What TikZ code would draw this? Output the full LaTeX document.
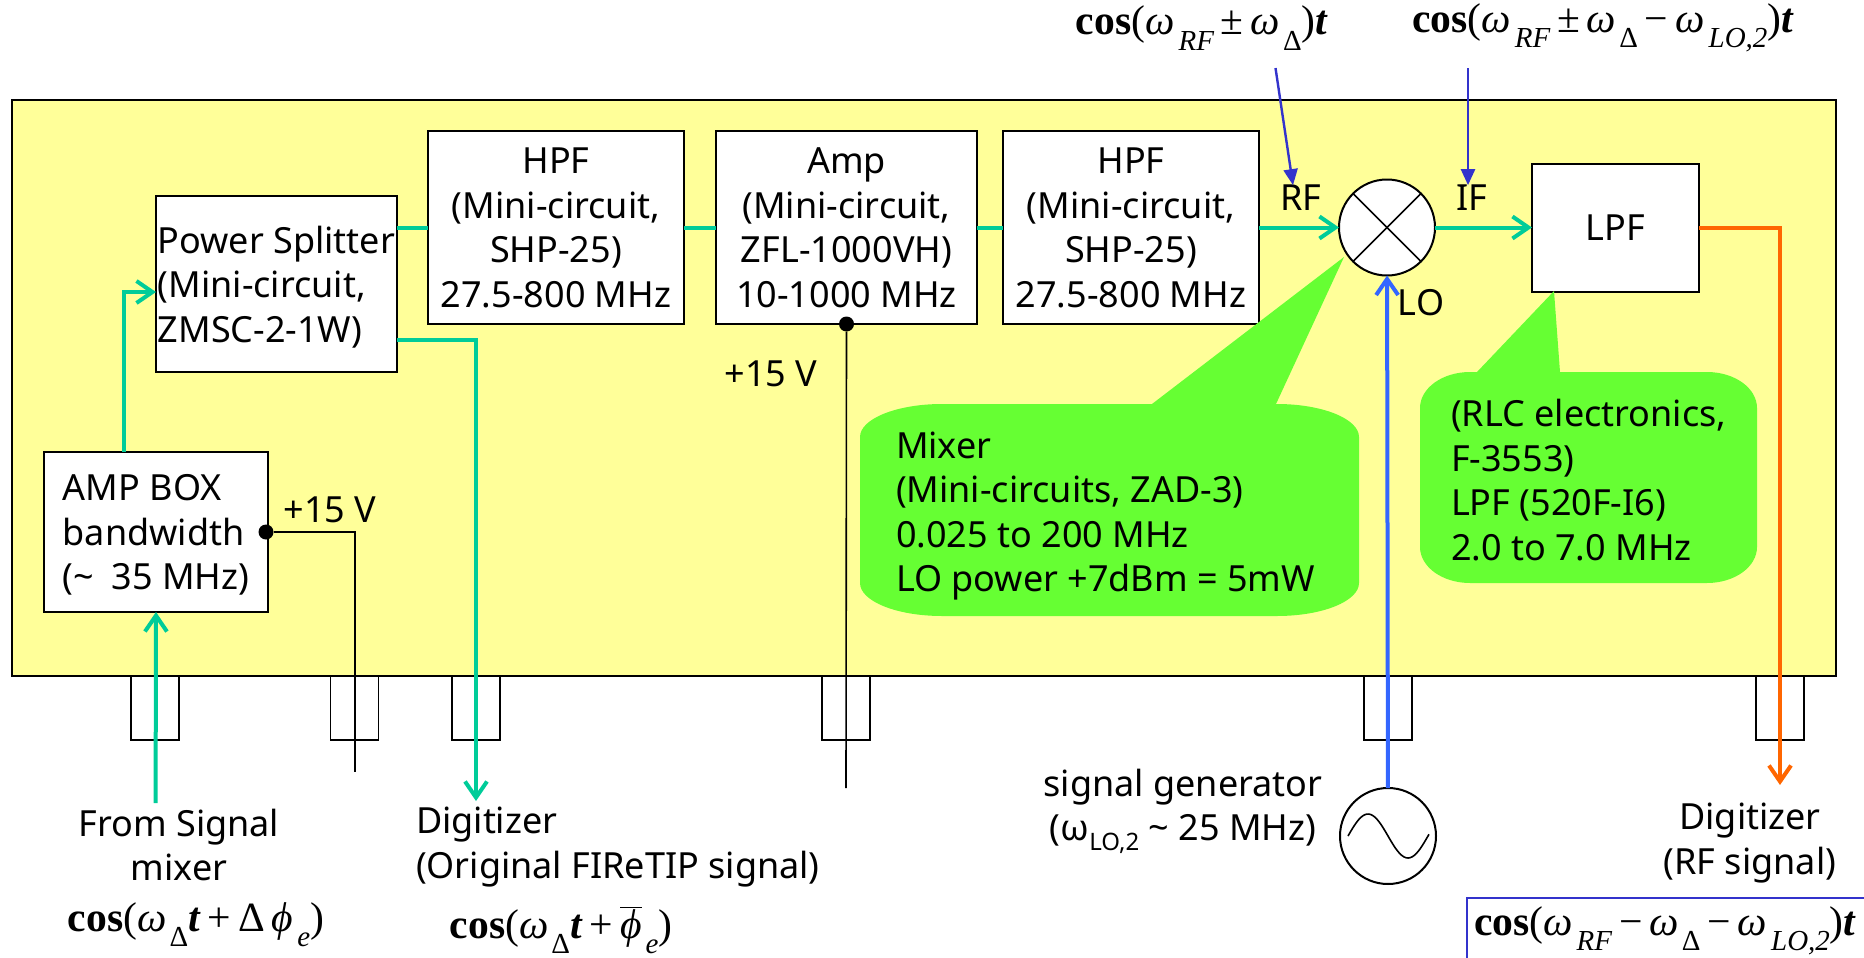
\documentclass[tikz,border=0pt]{standalone}
\usepackage{fontspec}
\setmainfont{Noto Sans}
\newfontfamily\eqfont{Liberation Serif}
\usepackage{tikz}
\usetikzlibrary{positioning,arrows.meta}
\definecolor{chassisyellow}{HTML}{FFFF99}
\definecolor{notegreen}{HTML}{66FF33}
\definecolor{wiregreen}{HTML}{00CC99}
\definecolor{wireorange}{HTML}{FF6600}
\definecolor{wireblue}{HTML}{3366FF}
\definecolor{markblue}{HTML}{3333CC}
\newcommand{\lowsub}[1]{\kern2pt\raisebox{-.8ex}{\fontsize{14.5}{15}\selectfont\itshape #1}}
\newcommand{\upsub}[1]{\kern1.5pt\raisebox{-.8ex}{\fontsize{14.5}{15}\selectfont #1}}
\newcommand{\om}{\textit{ω}}
\newcommand{\bcos}{\textbf{cos}}
\newcommand{\bt}{\textbf{\textit{t}}}

\begin{document}
\begin{tikzpicture} [x=0.5pt,y=-0.5pt,>={Straight Barb[length=8pt,width=11pt]},
    every node/.style={font=\fontsize{18}{22.3}\selectfont,inner sep=0pt,outer sep=0pt},
    box/.style={rectangle, draw, fill=white, line width=1pt, align=center, text depth=0pt},
    port/.style={rectangle, draw, line width=0.8pt, minimum width=24pt, minimum height=32pt},
    note/.style={notegreen},
    lab/.style={align=center},
    eqn/.style={font=\eqfont\fontsize{20.8}{24}\selectfont},
    dot/.style={circle, fill=black, minimum size=7.5pt},
    con/.style={->,line width=2pt,wiregreen},
    hot/.style={line width=0.8pt},
    markarrow/.style={-{Triangle[length=8pt,width=7pt]},line width=1.2pt,markblue}
    ]
    \clip (0,0) rectangle (1864,958);
    \node (chassis) [rectangle, draw, fill=chassisyellow, line width=1pt,
       minimum width=912pt, minimum height=288pt] at (923.5,388) {};

    \node (p1) [port] at (155,708) {};
    \node (p2) [port] at (354.5,708) {};
    \node (p3) [port] at (476,708) {};
    \node (p4) [port] at (846,708) {};
    \node (p5) [port] at (1388,708) {};
    \node (p6) [port] at (1780,708) {};

    \node (hpfa) [box, minimum width=128pt, minimum height=96.5pt] at (556,227.5)
       {HPF\\(Mini-circuit,\\SHP-25)\\27.5-800 MHz};
    \node (amp) [box, right=16pt of hpfa, minimum width=130.5pt, minimum height=96.5pt]
       {Amp\\(Mini-circuit,\\ZFL-1000VH)\\10-1000 MHz};
    \node (hpfb) [box, right=13pt of amp, minimum width=128pt, minimum height=96.5pt]
       {HPF\\(Mini-circuit,\\SHP-25)\\27.5-800 MHz};
    \node (mix) [circle, draw, fill=white, line width=1pt, minimum size=48pt, right=40pt of hpfb] {};
    \node (lpf) [box, right=48.5pt of mix, minimum width=83.5pt, minimum height=64pt] {LPF};
    \node (split) [box, minimum width=120.5pt, minimum height=88pt, align=left] at (276.5,284)
       {Power Splitter\\(Mini-circuit,\\ZMSC-2-1W)};
    \node (ampbox) [box, minimum width=112pt, minimum height=80pt, align=left] at (156,532)
       {AMP BOX\\bandwidth\\(\textasciitilde{}\hspace{4pt} 35 MHz)};
    \node (sgen) [circle, draw, fill=white, line width=1pt, minimum size=48pt] at (1388,836) {};

    \fill [note] (860,437) arc[start angle=180,end angle=90,x radius=41pt,y radius=16.5pt]
       -- (1152,404) -- (1344,257) -- (1276,404) -- (1277,404)
       arc[start angle=90,end angle=0,x radius=41pt,y radius=16.5pt]
       -- (1359,583) arc[start angle=0,end angle=-90,x radius=41pt,y radius=16.5pt]
       -- (942,616) arc[start angle=-90,end angle=-180,x radius=41pt,y radius=16.5pt] -- cycle;
    \fill [note] (1420,408) arc[start angle=180,end angle=90,x radius=25pt,y radius=18pt]
       -- (1477,372) -- (1554,291) -- (1560,372) -- (1707,372)
       arc[start angle=90,end angle=0,x radius=25pt,y radius=18pt]
       -- (1757,547) arc[start angle=0,end angle=-90,x radius=25pt,y radius=18pt]
       -- (1470,583) arc[start angle=-90,end angle=-180,x radius=25pt,y radius=18pt] -- cycle;
    \node (mixnote) [align=left,anchor=west] at (896,516)
       {Mixer\\(Mini-circuits, ZAD-3)\\0.025 to 200 MHz\\LO power +7dBm = 5mW};
    \node (lpfnote) [align=left,anchor=west] at (1451,480)
       {(RLC electronics,\\F-3553)\\LPF (520F-I6)\\2.0 to 7.0 MHz};

    \node (dota) [dot] at (266,532) {};
    \node (dotb) [dot] at (amp.south) {};
    \coordinate (enda) at (355,772);
    \coordinate (endb) at (846,788);
    \coordinate (sigin) at (155.6,803);
    \coordinate (digl) at (476,801);
    \coordinate (digr) at (1780,785);

    \draw [hot] (dota) -| (enda);
    \draw [hot] (dotb) -- (endb);
    \draw [con] (sigin) -- (ampbox.south);
    \draw [con] ([xshift=-16pt]ampbox.north) |- ([yshift=-4pt]split.west);
    \draw [con,-] (split.east |- hpfa.west) -- (hpfa);
    \draw [con,-] (hpfa) -- (amp);
    \draw [con,-] (amp) -- (hpfb);
    \draw [con] (hpfb) -- (mix);
    \draw [con] (mix) -- (lpf);
    \draw [con] ([yshift=-28pt]split.east) -| (digl);
    \draw [con,wireorange] (lpf) -| (digr);
    \draw [con,wireblue] (sgen) -- (mix);
    \draw [line width=0.8pt] (mix.45) -- (mix.225);
    \draw [line width=0.8pt] (mix.135) -- (mix.315);
    \draw [line width=0.8pt,smooth,samples=40,domain=-40:41] plot ({1388+\x},{836+22*sin(\x*4.5)});

    \node (rf) [lab] at (1301,198) {RF};
    \node (if) [lab] at (1472,198) {IF};
    \node (lo) [lab] at (1421,303) {LO};
    \node (va) [lab] at (771,374) {+15 V};
    \node (vb) [lab] at (330,510) {+15 V};
    \node (srclab) [lab] at (179,845) {From Signal\\mixer};
    \node (diglab) [lab,align=left,anchor=west] at (416,847) {Digitizer\\(Original FIReTIP signal)};
    \node (genlab) [lab] at (1183,811) {signal generator\\(ω\raisebox{-.5ex}{\fontsize{12}{12}\selectfont LO,2} \textasciitilde{} 25 MHz)};
    \node (rflab) [lab] at (1750,843) {Digitizer\\(RF signal)};

    \node (eqa) [eqn] at (1202,28) {\bcos(\om\lowsub{RF}\,±\,\om\upsub{Δ})\bt};
    \node (eqb) [eqn] at (1603,28) {\bcos(\om\lowsub{RF}\,±\,\om\upsub{Δ}\,−\,\om\lowsub{LO,2})\bt};
    \node (eqc) [eqn] at (196,925) {\bcos(\om\upsub{Δ}\bt\,+\,Δ\,\textit{ϕ}\lowsub{e})};
    \node (eqd) [eqn] at (561,930) {\bcos(\om\upsub{Δ}\bt\,+\,$\overline{\mbox{\textit{ϕ}}}$\lowsub{e})};
    \node (eqe) [eqn,draw=markblue,line width=1pt,anchor=north west,
       minimum width=230pt,minimum height=33pt,align=left,text width=230pt] at (1467,898)
       {\hspace{3.5pt}\bcos(\om\lowsub{RF}\,−\,\om\upsub{Δ}\,−\,\om\lowsub{LO,2})\bt};

    \coordinate (marka) at (1275.5,68);
    \coordinate (markb) at (1468,68);
    \draw [markarrow] (marka) -- ([xshift=-4pt]rf.north);
    \draw [markarrow] (markb) -- ([xshift=-2pt]if.north);
  \end{tikzpicture}
\end{document}
